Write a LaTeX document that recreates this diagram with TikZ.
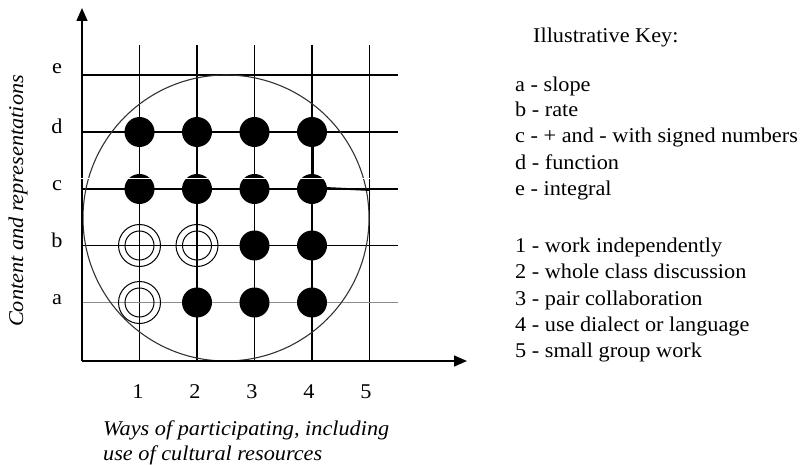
\documentclass[tikz,border=0pt]{standalone}
\usepackage{fontspec}
\setmainfont[FakeStretch=1.06]{Liberation Serif}
\usetikzlibrary{arrows.meta}
\begin{document}
\begin{tikzpicture}[x=1pt,y=-1pt,
  txt/.style={font=\fontsize{21}{25}\selectfont, inner sep=0pt},
  itxt/.style={font=\fontsize{21}{25}\selectfont\itshape, inner sep=0pt},
  gridline/.style={line width=1.3pt, black},
  axisline/.style={line width=1.4pt, black, -{Triangle[length=13pt,width=11pt]}},
  dotfill/.style={circle, fill=black, minimum size=30pt, inner sep=0pt},
  ringout/.style={circle, draw=black, line width=1pt, minimum size=42pt, inner sep=0pt},
  ringin/.style={circle, draw=black, line width=1pt, minimum size=29pt, inner sep=0pt}
]
\useasboundingbox (0,0) rectangle (800,465);
% axes
\coordinate (O) at (82,361);
\coordinate (ytop) at (82,8);
\coordinate (xend) at (467,361);
% grid lines
\foreach \n/\x in {1/139.5,2/197,3/254.5,4/312,5/369.5}{
  \coordinate (vt\n) at (\x,45);
  \coordinate (vb\n) at (\x,361);
  \draw[gridline] (vt\n) -- (vb\n);
}
\foreach \n/\y in {e/75,d/132,c/189,b/245.5}{
  \coordinate (hl\n) at (82,\y);
  \coordinate (hr\n) at (398,\y);
  \draw[gridline] (hl\n) -- (hr\n);
}
\coordinate (hla) at (82,302.5);
\coordinate (hra) at (398,302.5);
\draw[line width=0.8pt, black!45] (hla) -- (hra);
% big circle
\node[circle, draw=black!80, line width=1.1pt, minimum size=286pt, inner sep=0pt] (big) at (226,218) {};
% axes
\draw[axisline] (O) -- (ytop);
\draw[axisline] (O) -- (xend);
% dots
\foreach \c/\x in {1/139.5,2/197,3/254.5,4/312}{
  \node[dotfill] (d\c) at (\x,132) {};
  \node[dotfill] (c\c) at (\x,189) {};
}
\node[ringout] (b1) at (139.5,245.5) {};
\node[ringin] (b1i) at (b1.center) {};
\node[ringout] (b2) at (197,245.5) {};
\node[ringin] (b2i) at (b2.center) {};
\node[dotfill] (b3) at (254.5,245.5) {};
\node[dotfill] (b4) at (312,245.5) {};
\node[ringout] (a1) at (139.5,302.5) {};
\node[ringin] (a1i) at (a1.center) {};
\node[dotfill] (a2) at (197,302.5) {};
\node[dotfill] (a3) at (254.5,302.5) {};
\node[dotfill] (a4) at (312,302.5) {};
% odd extra strokes
\draw[line width=2pt] ([xshift=1pt]d4.south) -- ([xshift=1pt]c4.north);
\coordinate (cr) at (369,190);
\draw[line width=1.8pt] ([yshift=1pt]c4.east) -- (cr);
% white scan gap
\coordinate (gl) at (80,178);
\coordinate (gr) at (372,178);
\draw[white, line width=0.9pt] (gl) -- (gr);
% row labels
\foreach \n/\y in {e/74,d/134,c/190.5,b/247,a/304}{
  \node[txt, anchor=base] (lab\n) at (57,\y) {\n};
}
% column labels
\foreach \n/\x in {1/138,2/195,3/252,4/309,5/366}{
  \node[txt, anchor=base] (num\n) at (\x,398) {\n};
}
% axis titles
\node[itxt, anchor=base west] (xt1) at (103,435) {Ways of participating, including};
\node[itxt, anchor=base west] (xt2) at (103,460) {use of cultural resources};
\node[itxt, rotate=90] (yt) at (18,201) {Content and representations};
% key
\node[txt, anchor=base west] (key) at (533,43) {Illustrative Key:};
\foreach \i/\t/\y in {ka/a - slope/92, kb/b - rate/117, kc/c - + and - with signed numbers/143, kd/d - function/170, ke/e - integral/196,
  k1/1 - work independently/252, k2/2 - whole class discussion/278, k3/3 - pair collaboration/305, k4/4 - use dialect or language/331, k5/5 - small group work/357}{
  \node[txt, anchor=base west] (\i) at (515,\y) {\t};
}
\end{tikzpicture}
\end{document}
